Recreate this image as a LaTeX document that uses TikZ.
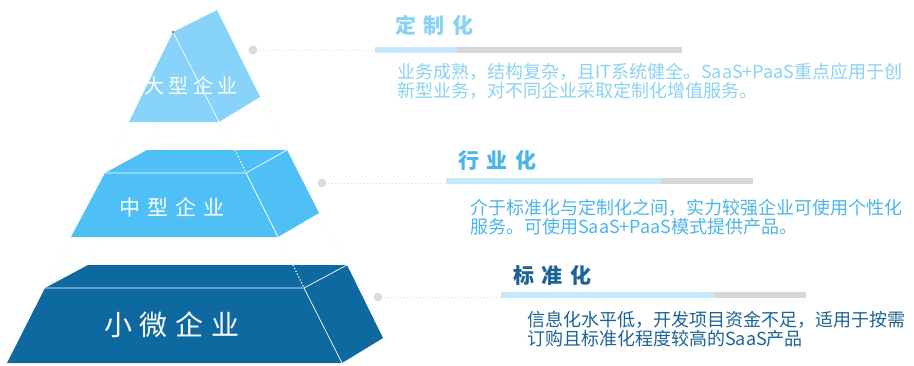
\documentclass[tikz,border=0pt]{standalone}
\usepackage{fontspec}
\setmainfont{Noto Sans CJK SC}
\definecolor{tone}{HTML}{87D3F9}
\definecolor{ttwo}{HTML}{4EC0F5}
\definecolor{tthree}{HTML}{0F69A1}
\definecolor{cone}{HTML}{8AD2F3}
\definecolor{ctwo}{HTML}{4BB5EA}
\definecolor{cthree}{HTML}{1B6397}
\definecolor{barblue}{HTML}{C6E9F9}
\definecolor{bargray}{HTML}{D6D6D6}
\definecolor{dotgray}{HTML}{DCDCDC}
\definecolor{faint}{HTML}{F1F1F1}
\newcommand{\gp}[1]{\hspace{#1pt}}
\begin{document}
\begin{tikzpicture}[x=1pt,y=-1pt,
  edge/.style={draw=white,line width=0.7pt},
  hidden/.style={draw=white,line width=1.2pt,dash pattern=on 1.2pt off 2pt},
  guide/.style={draw=faint,line width=0.8pt,dash pattern=on 1pt off 2pt},
  tierlabel/.style={text=white,inner sep=0pt,anchor=center},
  titletext/.style={font=\bfseries\fontsize{21}{24}\selectfont,inner sep=0pt,anchor=west},
  desc/.style={font=\fontsize{18}{20}\selectfont,inner sep=0pt,anchor=west},
  leader/.style={draw=dotgray,line width=0.8pt,dash pattern=on 1pt off 2.2pt},
  dotc/.style={fill=dotgray}]
\useasboundingbox (0,0) rectangle (914,365);

% faint guide lines between tiers
\draw[guide] (129,122) -- (105,173);
\draw[guide] (160,120) -- (147,150);
\draw[guide] (219,122) -- (235,150);
\draw[guide] (260,97) -- (287,150);
\draw[guide] (71,237) -- (45,288);
\draw[guide] (100,237) -- (88,265);
\draw[guide] (278,237) -- (293,265);
\draw[guide] (319,213) -- (347,265);

% top tier
\fill[tone] (173,32) -- (217,10) -- (260,97) -- (219,122) -- (129,122) -- cycle;
\draw[edge] (173,32) -- (219,122);
\fill[black] (173,32) circle (0.9);
\node[tierlabel,font=\fontsize{20}{22}\selectfont] (big) at (191,86) {大\gp{4.5}型\gp{4.5}企\gp{4.5}业};

% middle tier
\fill[ttwo] (147,150) -- (287,150) -- (319,213) -- (278,237) -- (71,237) -- (105,173) -- cycle;
\draw[edge] (105,173) -- (246,173) -- (278,237);
\draw[edge] (246,173) -- (287,150);
\draw[hidden] (235,150) -- (246,173);
\node[tierlabel,font=\fontsize{21}{23}\selectfont] (mid) at (172,207) {中\gp{7}型\gp{7}企\gp{7}业};

% bottom tier
\fill[tthree] (88,265) -- (347,265) -- (383,338) -- (342,363) -- (7,363) -- (45,288) -- cycle;
\draw[edge] (45,288) -- (304,288) -- (342,363);
\draw[edge] (304,288) -- (347,265);
\draw[hidden] (293,265) -- (304,288);
\node[tierlabel,font=\fontsize{28}{30}\selectfont] (small) at (172,325) {小\gp{8}微\gp{8}企\gp{8}业};

% row 1
\coordinate (d1) at (253,50);
\coordinate (b1) at (375,50);
\fill[dotc] (d1) circle (4.5);
\draw[leader] (d1) -- (b1);
\fill[barblue] (375,47) rectangle (457,53);
\fill[bargray] (457,47) rectangle (682,53);
\node[titletext,text=cone] (t1) at (395,25) {定\gp{7.5}制\gp{7.5}化};
\node[desc,text=cone] (p1a) at (397,72) {业务成熟，结构复杂，且IT系统健全。SaaS+PaaS重点应用于创};
\node[desc,text=cone] (p1b) at (397,91) {新型业务，对不同企业采取定制化增值服务。};

% row 2
\coordinate (d2) at (322,183);
\coordinate (b2) at (446,183);
\fill[dotc] (d2) circle (4.5);
\draw[leader] (d2) -- (b2);
\fill[barblue] (446,178) rectangle (661,184);
\fill[bargray] (661,178) rectangle (753,184);
\node[titletext,text=ctwo] (t2) at (458,160) {行\gp{7.5}业\gp{7.5}化};
\node[desc,text=ctwo] (p2a) at (470,208) {介于标准化与定制化之间，实力较强企业可使用个性化};
\node[desc,text=ctwo] (p2b) at (470,227) {服务。可使用SaaS+PaaS模式提供产品。};

% row 3
\coordinate (d3) at (378,297);
\coordinate (b3) at (501,297);
\fill[dotc] (d3) circle (4.5);
\draw[leader] (d3) -- (b3);
\fill[barblue] (501,292) rectangle (715,298);
\fill[bargray] (715,292) rectangle (806,298);
\node[titletext,text=cthree] (t3) at (513,275) {标\gp{7.5}准\gp{7.5}化};
\node[desc,text=cthree] (p3a) at (527,320) {信息化水平低，开发项目资金不足，适用于按需};
\node[desc,text=cthree] (p3b) at (527,339) {订购且标准化程度较高的SaaS产品};
\end{tikzpicture}
\end{document}
